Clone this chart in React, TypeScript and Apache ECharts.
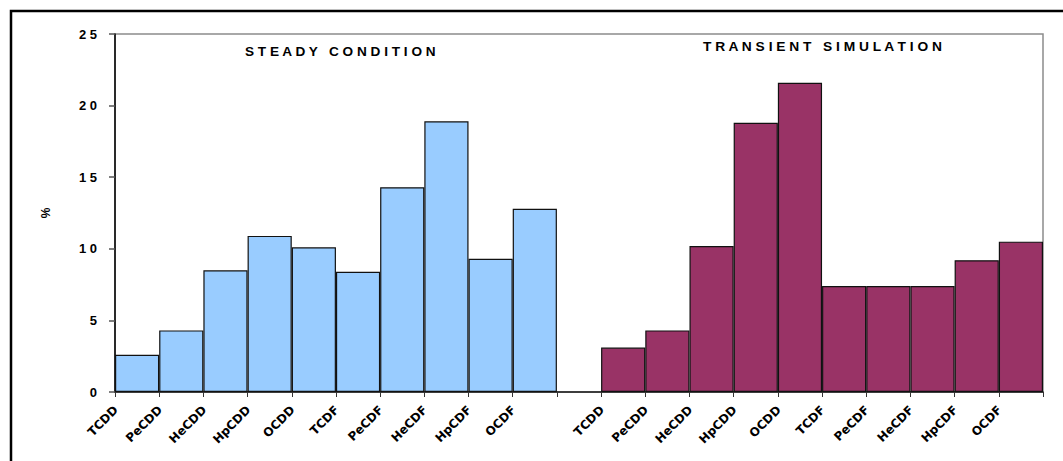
import React, { useEffect, useRef } from "react";
import * as echarts from "echarts";

const congeners = ["TCDD", "PeCDD", "HeCDD", "HpCDD", "OCDD", "TCDF", "PeCDF", "HeCDF", "HpCDF", "OCDF"];
const steadyValues = [2.6, 4.3, 8.5, 10.9, 10.1, 8.4, 14.3, 18.9, 9.3, 12.8];
const transientValues = [3.1, 4.3, 10.2, 18.8, 21.6, 7.4, 7.4, 7.4, 9.2, 10.5];
const steadyTitle = "STEADY CONDITION";
const transientTitle = "TRANSIENT SIMULATION";
const yTicks = [0, 5, 10, 15, 20, 25];

function spaced(s: string): string {
  return s
    .split(" ")
    .map((w) => w.split("").join(" "))
    .join(" \u00a0 ");
}

export default function App() {
  const ref = useRef<HTMLDivElement>(null);
  useEffect(() => {
    document.body.style.margin = "0";
    if (!ref.current) return;
    const chart = echarts.init(ref.current, undefined, { renderer: "svg" });

    const nSlots = congeners.length * 2 + 1;
    const slotCats = Array.from({ length: nSlots }, (_, i) => "s" + i);
    const boundaryLabels: string[] = [...congeners, "", ...congeners, ""];
    const boundaryCats = boundaryLabels.map((_, i) => "b" + i);

    const steadyData: (number | null)[] = [];
    const transientData: (number | null)[] = [];
    for (let i = 0; i < nSlots; i++) {
      steadyData.push(i < congeners.length ? steadyValues[i] : null);
      transientData.push(i > congeners.length ? transientValues[i - congeners.length - 1] : null);
    }

    const baseGraphics: any[] = [
      {
        type: "rect",
        shape: { x: 11, y: 11, width: 1200, height: 1000 },
        style: { fill: "none", stroke: "#000", lineWidth: 2.5 },
        silent: true,
      },
      {
        type: "text",
        x: 245,
        y: 52,
        scaleX: 1.135,
        style: {
          text: spaced(steadyTitle),
          fontFamily: "Liberation Sans",
          fontWeight: "bold",
          fontSize: 12,
          fill: "#000",
          verticalAlign: "middle",
          align: "left",
        },
      },
      {
        type: "text",
        x: 703,
        y: 47,
        scaleX: 1.15,
        style: {
          text: spaced(transientTitle),
          fontFamily: "Liberation Sans",
          fontWeight: "bold",
          fontSize: 12,
          fill: "#000",
          verticalAlign: "middle",
          align: "left",
        },
      },
    ];

    chart.setOption({
      animation: false,
      grid: {
        left: 115,
        right: 20,
        top: 34,
        bottom: 69,
        show: true,
        borderColor: "#8c8c8c",
        borderWidth: 1.5,
        backgroundColor: "transparent",
      },
      xAxis: [
        {
          type: "category",
          data: slotCats,
          show: false,
          boundaryGap: true,
        },
        {
          type: "category",
          data: boundaryCats,
          boundaryGap: false,
          position: "bottom",
          axisLine: { show: true, lineStyle: { color: "#1a1a1a", width: 1.5 } },
          axisTick: { show: true, length: 5, interval: 0, lineStyle: { color: "#333", width: 1 } },
          axisLabel: { show: false },
          splitLine: { show: false },
        },
      ],
      yAxis: {
        type: "value",
        min: 0,
        max: 25,
        interval: 5,
        name: "%",
        nameLocation: "middle",
        nameRotate: 90,
        nameGap: 63,
        nameTextStyle: { fontFamily: "Liberation Sans", fontWeight: "bold", fontSize: 12, color: "#000" },
        axisLine: { show: true, lineStyle: { color: "#000", width: 1.5 } },
        axisTick: { show: true, length: 6, inside: false, lineStyle: { color: "#555", width: 1.5 } },
        axisLabel: {
          margin: 18,
          fontFamily: "Liberation Sans",
          fontWeight: "bold",
          fontSize: 13,
          color: "#000",
          formatter: (v: number) => (yTicks.includes(v) ? String(v).split("").join(" ") : ""),
        },
        splitLine: { show: false },
      },
      series: [
        {
          type: "bar",
          name: steadyTitle,
          xAxisIndex: 0,
          data: steadyData,
          barWidth: "100%",
          barGap: "-100%",
          itemStyle: { color: "#99CCFF", borderColor: "#111", borderWidth: 1.2 },
        },
        {
          type: "bar",
          name: transientTitle,
          xAxisIndex: 0,
          data: transientData,
          barWidth: "100%",
          barGap: "-100%",
          itemStyle: { color: "#993366", borderColor: "#111", borderWidth: 1.2 },
        },
      ],
      graphic: baseGraphics,
    });

    // category labels at slot boundaries, placed through the axis scale
    const labelGraphics: any[] = [];
    boundaryLabels.forEach((lab, i) => {
      if (!lab) return;
      const px = chart.convertToPixel({ xAxisIndex: 1, yAxisIndex: 0 }, [boundaryCats[i], 0]) as number[];
      labelGraphics.push({
        type: "text",
        x: px[0] + 1,
        y: px[1] + 16,
        rotation: Math.PI / 4,
        style: {
          text: lab,
          fontFamily: "DejaVu Sans",
          fontWeight: "bold",
          fontSize: 12,
          fill: "#000",
          align: "right",
          verticalAlign: "middle",
        },
      });
    });
    chart.setOption({ graphic: [...baseGraphics, ...labelGraphics] });

    return () => chart.dispose();
  }, []);
  return <div ref={ref} style={{ width: 1063, height: 461 }} />;
}
